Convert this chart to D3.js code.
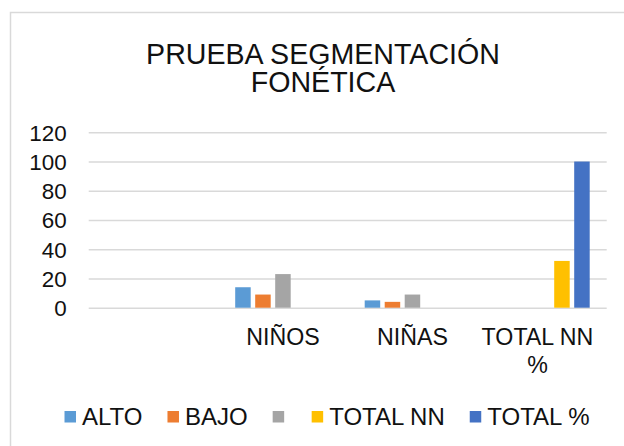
<!DOCTYPE html>
<html>
<head>
<meta charset="utf-8">
<script src="https://cdnjs.cloudflare.com/ajax/libs/d3/7.8.5/d3.min.js"></script>
<style>
    html, body { margin: 0; padding: 0; background: #fff; }
    #viz { display: block; }
    .label { font-family: "Liberation Sans", Arial, sans-serif; fill: #111; }
    .grid line { stroke: #d9d9d9; stroke-width: 1.5; }
</style>
</head>
<body>
<svg id="viz" width="624" height="446"></svg>
<script>
"use strict";
// chart values
const title = ["PRUEBA SEGMENTACIÓN", "FONÉTICA"];
const categories = ["", "NIÑOS", "NIÑAS", "TOTAL NN %"];
const seriesNames = ["ALTO", "BAJO", "", "TOTAL NN", "TOTAL %"];
const seriesColors = ["#5b9bd5", "#ed7d31", "#a5a5a5", "#ffc000", "#4472c4"];
const alto = [null, 14, 5, null];
const bajo = [null, 9, 4, null];
const gris = [null, 23, 9, null];
const totalNN = [null, null, null, 32];
const totalPct = [null, null, null, 100];
const yTicks = [0, 20, 40, 60, 80, 100, 120];

function RunGraph() {
    let svg = d3.select("#viz"), margin = {
        top: 132.3,
        left: 88.7,
        bottom: 307.7,
        right: 606.7
    };
    let series = [alto, bajo, gris, totalNN, totalPct];

    // chart border (runs off the right and bottom of the picture)
    svg.append("rect")
        .attr("x", 10.5)
        .attr("y", 12.5)
        .attr("width", 700)
        .attr("height", 500)
        .attr("fill", "#fff")
        .attr("stroke", "#d9d9d9")
        .attr("stroke-width", 1.5);

    svg.append("text")
        .attr("class", "label")
        .attr("text-anchor", "middle")
        .attr("x", 323)
        .attr("y", 63.5)
        .style("font-size", "28.6px")
        .selectAll("tspan")
        .data(title)
        .enter().append("tspan")
        .attr("x", 323)
        .attr("dy", (d, i) => i === 0 ? 0 : 28.2)
        .text(d => d);

    let xScale = d3.scaleBand()
        .domain(categories)
        .range([margin.left, margin.right]);
    let xInner = d3.scaleBand()
        .domain(d3.range(seriesNames.length))
        .range([0, xScale.bandwidth()])
        .paddingInner(0.225)
        .paddingOuter(0.85);
    let yScale = d3.scaleLinear()
        .domain([0, 120])
        .range([margin.bottom, margin.top]);

    // gridlines
    svg.append("g")
        .attr("class", "grid")
        .attr("transform", `translate(${margin.left}, 0)`)
        .call(d3.axisLeft(yScale).tickValues(yTicks).tickSize(-(margin.right - margin.left)).tickFormat(""))
        .call(g => g.select(".domain").remove());

    // y labels
    svg.append("g")
        .attr("transform", `translate(${margin.left - 22}, 0)`)
        .call(d3.axisLeft(yScale).tickValues(yTicks).tickSize(0).tickPadding(0))
        .call(g => g.select(".domain").remove())
        .selectAll("text")
        .attr("class", "label")
        .attr("dy", "0.35em")
        .style("font-size", "22.4px");

    // bars
    series.forEach((vals, s) => {
        svg.append("g")
            .selectAll("rect")
            .data(vals.map((v, i) => ({ cat: categories[i], v: v })).filter(d => d.v !== null))
            .enter().append("rect")
            .attr("x", d => xScale(d.cat) + xInner(s))
            .attr("width", xInner.bandwidth())
            .attr("y", d => yScale(d.v))
            .attr("height", d => yScale(0) - yScale(d.v))
            .attr("fill", seriesColors[s]);
    });

    // x labels (wrapped like the original)
    let xLabels = svg.append("g")
        .selectAll("text")
        .data(categories.filter(c => c !== ""))
        .enter().append("text")
        .attr("class", "label")
        .attr("text-anchor", "middle")
        .attr("y", 345)
        .style("font-size", "23.2px");
    xLabels.each(function (d) {
        let words = d === "TOTAL NN %" ? ["TOTAL NN", "%"] : [d];
        let cx = xScale(d) + xScale.bandwidth() / 2 - (words.length > 1 ? 4.5 : 0);
        d3.select(this).selectAll("tspan")
            .data(words)
            .enter().append("tspan")
            .attr("x", cx)
            .attr("dy", (w, i) => i === 0 ? 0 : 28)
            .text(w => w);
    });

    // legend
    let legend = svg.append("g");
    let lx = 0;
    seriesNames.forEach((name, i) => {
        let item = legend.append("g").attr("transform", `translate(${lx}, 0)`);
        item.append("rect")
            .attr("x", 0)
            .attr("y", -5.5)
            .attr("width", 11.5)
            .attr("height", 11.5)
            .attr("fill", seriesColors[i]);
        let t = item.append("text")
            .attr("class", "label")
            .attr("x", 17.5)
            .attr("y", 8.4)
            .style("font-size", "24px")
            .text(name);
        let tw = name ? t.node().getComputedTextLength() : 0;
        lx += name ? 17.5 + tw + 25 : 11.5 + 27.5;
    });
    let lw = lx - 25;
    legend.attr("transform", `translate(${327 - lw / 2}, 416.5)`);
}
RunGraph();
</script>
</body>
</html>
